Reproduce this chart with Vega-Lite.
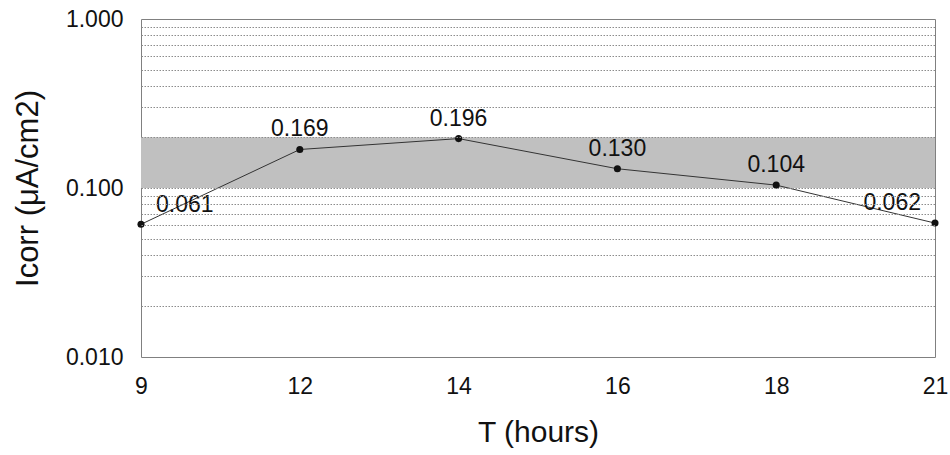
{
  "$schema": "https://vega.github.io/schema/vega-lite/v6.json",
  "width": 794,
  "height": 338,
  "autosize": {"type": "none"},
  "padding": {"left": 141, "top": 19, "right": 15, "bottom": 98},
  "background": "white",
  "config": {
    "font": "Liberation Sans",
    "view": {"stroke": "#808080", "strokeWidth": 1}
  },
  "data": {
    "values": [
      {"T": 9, "Icorr": 0.061},
      {"T": 12, "Icorr": 0.169},
      {"T": 14, "Icorr": 0.196},
      {"T": 16, "Icorr": 0.130},
      {"T": 18, "Icorr": 0.104},
      {"T": 21, "Icorr": 0.062}
    ]
  },
  "layer": [
    {
      "data": {"values": [{"lo": 0.1, "hi": 0.2}]},
      "mark": {"type": "rect", "color": "#c0c0c0"},
      "encoding": {
        "y": {
          "field": "lo",
          "type": "quantitative",
          "scale": {"type": "log", "domain": [0.01, 1]},
          "title": "Icorr (μA/cm2)",
          "axis": {
            "values": [0.01, 0.02, 0.03, 0.04, 0.05, 0.06, 0.07, 0.08, 0.09, 0.1, 0.2, 0.3, 0.4, 0.5, 0.6, 0.7, 0.8, 0.9, 1],
            "labelExpr": "(datum.value == 0.01 || datum.value == 0.1 || datum.value == 1) ? format(datum.value, '.3f') : ''",
            "domain": false,
            "ticks": false,
            "tickSize": 0,
            "labelPadding": 18,
            "labelFontSize": 23,
            "labelColor": "#111",
            "labelBaseline": "middle",
            "titleFontSize": 31,
            "titleFontWeight": "normal",
            "titleColor": "#111",
            "titlePadding": 21,
            "grid": true,
            "gridColor": "#8c8c8c",
            "gridDash": [1.5, 1.5],
            "gridWidth": 1,
            "gridOpacity": {"condition": {"test": "datum.value == 1 || datum.value == 0.01", "value": 0}, "value": 1},
            "zindex": 1
          }
        },
        "y2": {"field": "hi"}
      }
    },
    {
      "mark": {"type": "line", "color": "#333333", "strokeWidth": 1},
      "encoding": {
        "x": {
          "field": "T",
          "type": "ordinal",
          "scale": {"type": "point", "padding": 0},
          "title": "T (hours)",
          "axis": {
            "labelAngle": 0,
            "domain": false,
            "ticks": false,
            "tickSize": 0,
            "labelPadding": 18,
            "labelFontSize": 23,
            "labelColor": "#111",
            "titleFontSize": 30,
            "titleFontWeight": "normal",
            "titleColor": "#111",
            "titlePadding": 19,
            "grid": false
          }
        },
        "y": {"field": "Icorr", "type": "quantitative", "title": "Icorr (μA/cm2)"}
      }
    },
    {
      "mark": {"type": "point", "filled": true, "color": "#111111", "size": 50, "opacity": 1},
      "encoding": {
        "x": {"field": "T", "type": "ordinal", "title": "T (hours)"},
        "y": {"field": "Icorr", "type": "quantitative", "title": "Icorr (μA/cm2)"}
      }
    },
    {
      "transform": [{"filter": "datum.T == 9"}],
      "mark": {"type": "text", "align": "left", "baseline": "middle", "dx": 15, "dy": -19, "fontSize": 23, "color": "#111"},
      "encoding": {
        "x": {"field": "T", "type": "ordinal", "title": "T (hours)"},
        "y": {"field": "Icorr", "type": "quantitative", "title": "Icorr (μA/cm2)"},
        "text": {"field": "Icorr", "type": "quantitative", "format": ".3f"}
      }
    },
    {
      "transform": [{"filter": "datum.T == 21"}],
      "mark": {"type": "text", "align": "right", "baseline": "middle", "dx": -14, "dy": -20, "fontSize": 23, "color": "#111"},
      "encoding": {
        "x": {"field": "T", "type": "ordinal", "title": "T (hours)"},
        "y": {"field": "Icorr", "type": "quantitative", "title": "Icorr (μA/cm2)"},
        "text": {"field": "Icorr", "type": "quantitative", "format": ".3f"}
      }
    },
    {
      "transform": [{"filter": "datum.T != 9 && datum.T != 21"}],
      "mark": {"type": "text", "align": "center", "baseline": "middle", "dy": -20, "fontSize": 23, "color": "#111"},
      "encoding": {
        "x": {"field": "T", "type": "ordinal", "title": "T (hours)"},
        "y": {"field": "Icorr", "type": "quantitative", "title": "Icorr (μA/cm2)"},
        "text": {"field": "Icorr", "type": "quantitative", "format": ".3f"}
      }
    }
  ]
}
